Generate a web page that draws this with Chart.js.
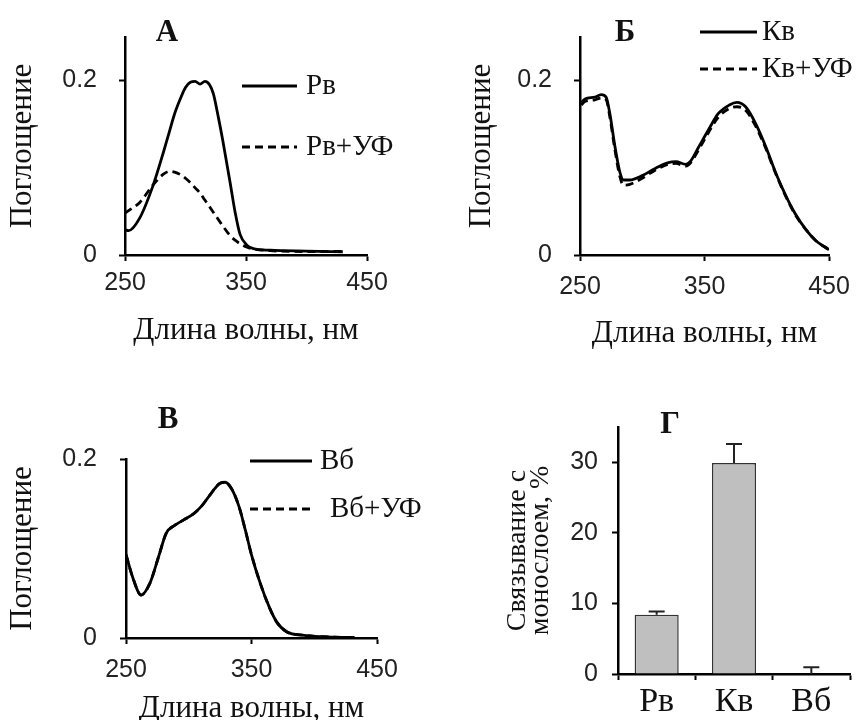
<!DOCTYPE html>
<html>
<head>
<meta charset="utf-8">
<script src="https://cdn.jsdelivr.net/npm/chart.js@4.4.1/dist/chart.umd.min.js"></script>
<style>
  body { margin: 0; background: #fff; }
  .panel { position: absolute; width: 432px; height: 360px; }
</style>
</head>
<body>
<div class="panel" style="left:0;top:0"><canvas id="chartA"></canvas></div>
<div class="panel" style="left:432px;top:0"><canvas id="chartB"></canvas></div>
<div class="panel" style="left:0;top:360px"><canvas id="chartC"></canvas></div>
<div class="panel" style="left:432px;top:360px"><canvas id="chartD"></canvas></div>
<script>
const SERIF = '"Liberation Serif", "Times New Roman", serif';
const SANS = '"Liberation Sans", Arial, sans-serif';

// А: Рв
const wlA = [250, 253, 262, 273, 282, 287, 291, 296, 300, 304, 308, 312, 316, 320, 323, 327, 331, 337, 341, 345, 351, 356, 370, 400, 430];
const rv = [0.029, 0.028, 0.042, 0.079, 0.119, 0.143, 0.162, 0.180, 0.192, 0.198, 0.199, 0.196, 0.199, 0.195, 0.185, 0.159, 0.130, 0.082, 0.049, 0.024, 0.011, 0.0074, 0.0055, 0.0045, 0.0037];
const rvUv = [0.048, 0.051, 0.060, 0.080, 0.093, 0.096, 0.095, 0.092, 0.088, 0.083, 0.077, 0.071, 0.063, 0.055, 0.049, 0.041, 0.033, 0.022, 0.017, 0.013, 0.009, 0.007, 0.005, 0.004, 0.004];

// Б: Кв
const wlB = [251, 254, 262, 267, 271, 274, 278, 282, 285, 290, 300, 310, 321, 327, 335, 339, 345, 353, 361, 370, 376, 383, 391, 399, 407, 415, 423, 431, 439, 450];
const kv = [0.175, 0.179, 0.181, 0.184, 0.181, 0.162, 0.125, 0.095, 0.086, 0.086, 0.091, 0.099, 0.106, 0.107, 0.104, 0.108, 0.123, 0.143, 0.162, 0.172, 0.175, 0.170, 0.151, 0.125, 0.095, 0.069, 0.047, 0.030, 0.017, 0.006];
const kvUv = [0.172, 0.176, 0.178, 0.180, 0.178, 0.158, 0.121, 0.090, 0.080, 0.081, 0.088, 0.097, 0.104, 0.105, 0.102, 0.106, 0.120, 0.140, 0.158, 0.168, 0.170, 0.166, 0.148, 0.123, 0.094, 0.068, 0.046, 0.030, 0.017, 0.006];

// В: Вб (curves coincide)
const wlC = [250, 256, 262, 269, 276, 282, 289, 296, 304, 310, 317, 325, 329, 334, 340, 345, 350, 357, 364, 370, 378, 392, 416, 432];
const vb = [0.093, 0.065, 0.048, 0.061, 0.091, 0.117, 0.126, 0.132, 0.139, 0.147, 0.160, 0.173, 0.174, 0.167, 0.147, 0.121, 0.093, 0.061, 0.035, 0.018, 0.007, 0.003, 0.001, 0.0005];
const vbUv = [0.093, 0.065, 0.048, 0.061, 0.091, 0.117, 0.126, 0.132, 0.139, 0.147, 0.160, 0.173, 0.174, 0.167, 0.147, 0.121, 0.093, 0.061, 0.035, 0.018, 0.007, 0.003, 0.001, 0.0005];

// Г: связывание с монослоем
const bindLabels = ['Рв', 'Кв', 'Вб'];
const bindValues = [8.4, 29.9, 0];
const bindErrors = [0.45, 2.7, 0.95];

const wlTicks = [250, 350, 450];
const absTicks = [0, 0.2];
const bindTicks = [0, 10, 20, 30];

Chart.defaults.animation = false;
Chart.defaults.font.family = SANS;
Chart.defaults.color = '#111';

const toPoints = (xs, ys) => xs.map((x, i) => ({ x, y: ys[i] }));

// panel letter + legend drawn inside the plot
const panelText = {
  id: 'panelText',
  afterDatasetsDraw(chart, args, opts) {
    const ctx = chart.ctx;
    ctx.save();
    ctx.fillStyle = '#111';
    ctx.textBaseline = 'middle';
    ctx.font = 'bold 31px ' + SERIF;
    ctx.textAlign = 'center';
    ctx.fillText(opts.letter, opts.letterX, opts.letterY);
    (opts.entries || []).forEach(e => {
      ctx.strokeStyle = '#000';
      ctx.lineWidth = 2.8;
      ctx.setLineDash(e.dash ? [8, 5] : []);
      ctx.beginPath();
      ctx.moveTo(e.x1, e.y);
      ctx.lineTo(e.x2, e.y);
      ctx.stroke();
      ctx.setLineDash([]);
      ctx.font = '29px ' + SERIF;
      ctx.textAlign = 'left';
      ctx.fillText(e.text, e.textX, e.y);
    });
    ctx.restore();
  }
};

const errorBars = {
  id: 'errorBars',
  afterDatasetsDraw(chart) {
    const { ctx, scales: { x, y } } = chart;
    ctx.save();
    ctx.strokeStyle = '#222';
    ctx.lineWidth = 2;
    bindErrors.forEach((err, i) => {
      const px = x.getPixelForValue(i);
      const y0 = y.getPixelForValue(bindValues[i]);
      const y1 = y.getPixelForValue(bindValues[i] + err);
      ctx.beginPath();
      ctx.moveTo(px, y0);
      ctx.lineTo(px, y1);
      ctx.moveTo(px - 8, y1);
      ctx.lineTo(px + 8, y1);
      ctx.stroke();
    });
    ctx.restore();
  }
};

const border = { display: true, color: '#000', width: 2.5 };
const tickGrid = { drawOnChartArea: false, drawTicks: true, tickLength: 6, tickColor: '#000', tickWidth: 2 };

function spectrum(id, p) {
  return new Chart(document.getElementById(id), {
    type: 'line',
    data: {
      datasets: [
        { label: p.names[1], data: toPoints(p.wl, p.uv), borderColor: '#000', borderWidth: 2.8, borderDash: [8, 5], pointRadius: 0, cubicInterpolationMode: 'monotone' },
        { label: p.names[0], data: toPoints(p.wl, p.base), borderColor: '#000', borderWidth: 2.8, pointRadius: 0, cubicInterpolationMode: 'monotone' }
      ]
    },
    options: {
      responsive: true,
      maintainAspectRatio: false,
      layout: { padding: { top: p.top, right: p.right, left: 0, bottom: 0 } },
      plugins: {
        legend: { display: false },
        tooltip: { enabled: false },
        panelText: p.text
      },
      scales: {
        x: {
          type: 'linear', min: 250, max: 450,
          border, grid: tickGrid,
          afterBuildTicks: s => { s.ticks = wlTicks.map(v => ({ value: v })); },
          afterFit: s => { s.height = p.xh; },
          ticks: { font: { size: 25 }, padding: p.xtp, maxRotation: 0, color: '#222' },
          title: { display: true, text: 'Длина волны, нм', font: { family: SERIF, size: 31 }, padding: { top: 0, bottom: p.xpb }, color: '#111' }
        },
        y: {
          min: 0, max: p.ymax,
          border, grid: tickGrid,
          afterBuildTicks: s => { s.ticks = absTicks.map(v => ({ value: v })); },
          afterFit: s => { s.width = p.yw; },
          ticks: { font: { size: 25 }, padding: p.ytp, color: '#222', callback: v => (v === 0 ? '0' : v.toFixed(1)) },
          title: { display: true, text: 'Поглощение', font: { family: SERIF, size: 31 }, padding: { top: p.ypt, bottom: 0 }, color: '#111' }
        }
      }
    },
    plugins: [panelText]
  });
}

spectrum('chartA', {
  wl: wlA, base: rv, uv: rvUv, names: ['Рв', 'Рв+УФ'],
  top: 28, right: 65, yw: 125, xh: 105, ymax: 0.25,
  xtp: 7, xpb: 11, ytp: 22, ypt: 4,
  text: {
    letter: 'А', letterX: 167, letterY: 33,
    entries: [
      { x1: 242, x2: 297, y: 86, text: 'Рв', textX: 306 },
      { x1: 242, x2: 297, y: 147, text: 'Рв+УФ', textX: 306, dash: true }
    ]
  }
});

spectrum('chartB', {
  wl: wlB, base: kv, uv: kvUv, names: ['Кв', 'Кв+УФ'],
  top: 32, right: 35, yw: 148, xh: 105, ymax: 0.25,
  xtp: 11, xpb: 8, ytp: 22, ypt: 31,
  text: {
    letter: 'Б', letterX: 193, letterY: 33,
    entries: [
      { x1: 268, x2: 325, y: 32, text: 'Кв', textX: 330 },
      { x1: 268, x2: 325, y: 69, text: 'Кв+УФ', textX: 330, dash: true }
    ]
  }
});

spectrum('chartC', {
  wl: wlC, base: vb, uv: vbUv, names: ['Вб', 'Вб+УФ'],
  top: 99, right: 55, yw: 126, xh: 82, ymax: 0.2,
  xtp: 11, xpb: -7, ytp: 23, ypt: 4,
  text: {
    letter: 'В', letterX: 168, letterY: 60,
    entries: [
      { x1: 250, x2: 312, y: 101, text: 'Вб', textX: 320 },
      { x1: 250, x2: 312, y: 149, text: 'Вб+УФ', textX: 330, dash: true }
    ]
  }
});

new Chart(document.getElementById('chartD'), {
  type: 'bar',
  data: {
    labels: bindLabels,
    datasets: [{
      data: bindValues,
      backgroundColor: '#bfbfbf',
      borderColor: '#333',
      borderWidth: 1.5,
      barPercentage: 0.57,
      categoryPercentage: 1
    }]
  },
  options: {
    responsive: true,
    maintainAspectRatio: false,
    layout: { padding: { top: 67, right: 14, left: 0, bottom: 0 } },
    plugins: {
      legend: { display: false },
      tooltip: { enabled: false },
      panelText: { letter: 'Г', letterX: 238, letterY: 65 }
    },
    scales: {
      x: {
        border, grid: { ...tickGrid, offset: true },
        afterFit: s => { s.height = 46; },
        ticks: { font: { family: SERIF, size: 34 }, padding: 2, color: '#111' }
      },
      y: {
        min: 0, max: 35,
        border, grid: tickGrid,
        afterBuildTicks: s => { s.ticks = bindTicks.map(v => ({ value: v })); },
        afterFit: s => { s.width = 186; },
        ticks: { font: { size: 25 }, padding: 14, color: '#222' },
        title: { display: true, text: ['Связывание с', 'монослоем, %'], font: { family: SERIF, size: 28, lineHeight: '23px' }, padding: { top: 74, bottom: 0 }, color: '#111' }
      }
    }
  },
  plugins: [errorBars, panelText]
});
</script>
</body>
</html>
